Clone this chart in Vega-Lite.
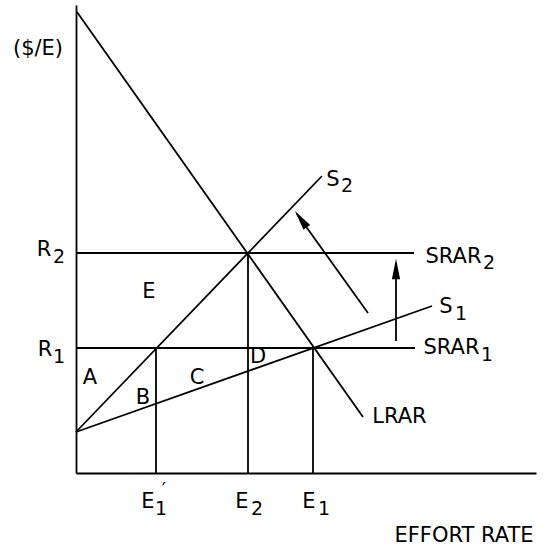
{
  "$schema": "https://vega.github.io/schema/vega-lite/v6.json",
  "width": 460,
  "height": 468,
  "autosize": {"type": "none"},
  "padding": {"left": 76, "right": 17, "top": 5, "bottom": 76},
  "background": "white",
  "config": {"view": {"stroke": null}},
  "datasets": {
    "segments": [
      {"name": "LRAR", "x1": 1, "y1": 461, "x2": 287, "y2": 56},
      {"name": "S2", "x1": 0, "y1": 41, "x2": 246, "y2": 297},
      {"name": "S1", "x1": 0, "y1": 41, "x2": 356, "y2": 167},
      {"name": "SRAR2", "x1": 0, "y1": 220, "x2": 338, "y2": 220},
      {"name": "SRAR1", "x1": 0, "y1": 125, "x2": 339, "y2": 125},
      {"name": "E1p", "x1": 80, "y1": 0, "x2": 80, "y2": 125},
      {"name": "E2", "x1": 172, "y1": 0, "x2": 172, "y2": 220},
      {"name": "E1", "x1": 237, "y1": 0, "x2": 237, "y2": 125},
      {"name": "shift S", "x1": 292, "y1": 160, "x2": 221, "y2": 259},
      {"name": "shift SRAR", "x1": 320, "y1": 132, "x2": 320, "y2": 210}
    ],
    "labels": [
      {"t": "($/E)", "x": -38, "y": 424},
      {"t": "R", "x": -32, "y": 223},
      {"t": "R", "x": -31, "y": 123},
      {"t": "A", "x": 14, "y": 95},
      {"t": "B", "x": 67, "y": 75},
      {"t": "C", "x": 121, "y": 95},
      {"t": "D", "x": 182, "y": 116},
      {"t": "E", "x": 73, "y": 181},
      {"t": "S", "x": 257, "y": 293},
      {"t": "SRAR", "x": 377.5, "y": 216},
      {"t": "S", "x": 370, "y": 166},
      {"t": "SRAR", "x": 375.5, "y": 125},
      {"t": "LRAR", "x": 323.5, "y": 56},
      {"t": "E", "x": 72, "y": -29},
      {"t": "E", "x": 166, "y": -29},
      {"t": "E", "x": 233, "y": -29},
      {"t": "EFFORT RATE", "x": 388, "y": -63}
    ],
    "subs": [
      {"t": "2", "x": -17, "y": 216},
      {"t": "1", "x": -17, "y": 116},
      {"t": "2", "x": 271, "y": 287},
      {"t": "2", "x": 413, "y": 210},
      {"t": "1", "x": 385, "y": 159},
      {"t": "1", "x": 411, "y": 118},
      {"t": "1", "x": 85, "y": -36},
      {"t": "′", "x": 88, "y": -17},
      {"t": "2", "x": 181, "y": -36},
      {"t": "1", "x": 248, "y": -36}
    ],
    "heads": [
      {"arrow": "shift SRAR", "x": 320, "y": 204},
      {"arrow": "shift S", "x": 224.8, "y": 253.9}
    ]
  },
  "layer": [
    {
      "data": {"name": "segments"},
      "mark": {"type": "rule", "color": "black", "strokeWidth": 1.8},
      "encoding": {
        "x": {"field": "x1", "type": "quantitative",
              "scale": {"domain": [0, 460], "nice": false, "zero": false},
              "axis": {"domainColor": "black", "domainWidth": 1.8, "ticks": false, "labels": false, "grid": false, "title": null}},
        "y": {"field": "y1", "type": "quantitative",
              "scale": {"domain": [0, 468], "nice": false, "zero": false},
              "axis": {"domainColor": "black", "domainWidth": 1.8, "ticks": false, "labels": false, "grid": false, "title": null}},
        "x2": {"field": "x2"},
        "y2": {"field": "y2"}
      }
    },
    {
      "data": {"name": "labels"},
      "mark": {"type": "text", "font": "DejaVu Sans", "fontSize": 21, "color": "black", "align": "center", "baseline": "middle"},
      "encoding": {
        "x": {"field": "x", "type": "quantitative"},
        "y": {"field": "y", "type": "quantitative"},
        "text": {"field": "t"}
      }
    },
    {
      "data": {"name": "subs"},
      "mark": {"type": "text", "font": "DejaVu Sans", "fontSize": 19, "color": "black", "align": "center", "baseline": "middle"},
      "encoding": {
        "x": {"field": "x", "type": "quantitative"},
        "y": {"field": "y", "type": "quantitative"},
        "text": {"field": "t"}
      }
    },
    {
      "data": {"name": "heads"},
      "transform": [{"filter": "datum.arrow === 'shift SRAR'"}],
      "mark": {"type": "point", "shape": "M0,-1L0.4,1L-0.4,1Z", "size": 420, "filled": true, "color": "black", "opacity": 1, "strokeWidth": 0, "angle": 0},
      "encoding": {
        "x": {"field": "x", "type": "quantitative"},
        "y": {"field": "y", "type": "quantitative"}
      }
    },
    {
      "data": {"name": "heads"},
      "transform": [{"filter": "datum.arrow === 'shift S'"}],
      "mark": {"type": "point", "shape": "M0,-1L0.4,1L-0.4,1Z", "size": 420, "filled": true, "color": "black", "opacity": 1, "strokeWidth": 0, "angle": 324},
      "encoding": {
        "x": {"field": "x", "type": "quantitative"},
        "y": {"field": "y", "type": "quantitative"}
      }
    }
  ]
}
